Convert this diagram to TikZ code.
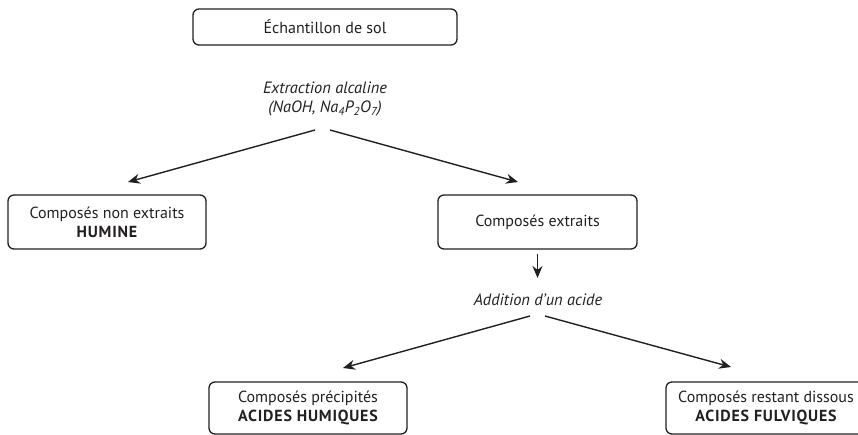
\documentclass[tikz,border=0pt]{standalone}
\usepackage{fontspec}
\setmainfont{PT Sans}
\usetikzlibrary{arrows.meta}

\definecolor{encre}{HTML}{231F20}

\newcommand{\gras}[1]{{\bfseries\addfontfeature{LetterSpace=5}#1}}

\tikzset{
  boite/.style={draw=encre, line width=1.3pt, rounded corners=6pt,
    minimum width=198pt, minimum height=54pt, align=center, inner sep=2pt},
  etape/.style={font=\fontsize{16.4}{19}\selectfont\itshape, align=center, text=encre},
  fleche/.style={draw=encre, line width=1.4pt, -{Stealth[length=12pt,width=10pt]}}
}

\begin{document}
\begin{tikzpicture}[x=1pt, y=-1pt, font=\fontsize{16}{19}\selectfont, text=encre]

    \useasboundingbox (0,0) rectangle (858,434);

    \node[boite, minimum width=264pt, minimum height=36pt] (echantillon) at (325,27) {Échantillon de sol};

    \node[etape] (extraction) at (325,99) {Extraction alcaline\\(NaOH, Na\textsubscript{4}P\textsubscript{2}O\textsubscript{7})};



    \node[boite] (humine) at (107,222) {Composés non extraits\\\gras{HUMINE}};

    \node[boite, minimum width=199pt] (extraits) at (537.5,222) {Composés extraits};



    \node[etape] (addition) at (538,300) {Addition d’un acide};



    \node[boite, minimum height=52pt] (humiques) at (308,408) {Composés précipités\\\gras{ACIDES HUMIQUES}};

    \node[boite, minimum width=200pt, minimum height=52pt] (fulviques) at (766,408) {Composés restant dissous\\\gras{ACIDES FULVIQUES}};



    \coordinate (extraction-g) at (315,130);
    \coordinate (extraction-d) at (330,130);
    \coordinate (humine-haut) at (128,182);
    \coordinate (extraits-haut) at (518,182);
    \coordinate (addition-haut) at (537.5,278);
    \coordinate (addition-g) at (530,316);
    \coordinate (addition-d) at (545,316);
    \coordinate (humiques-haut) at (343,368);
    \coordinate (fulviques-haut) at (731,367);

    \draw[fleche] (extraction-g) -- (humine-haut);
    \draw[fleche] (extraction-d) -- (extraits-haut);
    \draw[fleche] ([yshift=-4pt]extraits.south) -- (addition-haut);
    \draw[fleche] (addition-g) -- (humiques-haut);
    \draw[fleche] (addition-d) -- (fulviques-haut);

\end{tikzpicture}
\end{document}
